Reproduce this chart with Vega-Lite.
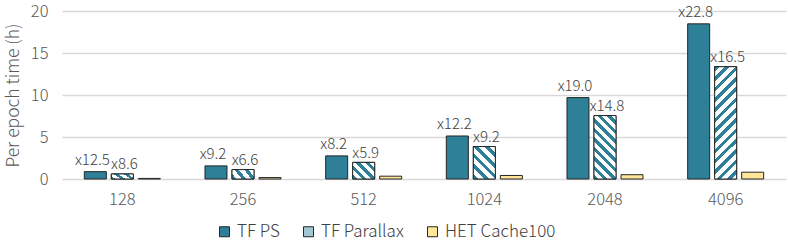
{
  "$schema": "https://vega.github.io/schema/vega-lite/v6.json",
  "width": 724,
  "height": 168,
  "autosize": {"type": "none"},
  "padding": {"left": 62, "top": 11, "right": 2, "bottom": 64},
  "config": {
    "font": "Noto Sans CJK SC",
    "view": {"stroke": null},
    "axis": {"labelColor": "#595959", "titleColor": "#595959", "labelFontSize": 16.5, "labelFontWeight": 300, "titleFontSize": 17.5, "titleFontWeight": 300, "ticks": false, "domain": false}
  },
  "data": {
    "values": [
      {"batch": "128", "series": "TF PS", "value": 0.875, "label": "x12.5"},
      {"batch": "128", "series": "TF Parallax", "value": 0.60, "label": "x8.6"},
      {"batch": "128", "series": "HET Cache100", "value": 0.07, "label": ""},
      {"batch": "256", "series": "TF PS", "value": 1.56, "label": "x9.2"},
      {"batch": "256", "series": "TF Parallax", "value": 1.12, "label": "x6.6"},
      {"batch": "256", "series": "HET Cache100", "value": 0.17, "label": ""},
      {"batch": "512", "series": "TF PS", "value": 2.75, "label": "x8.2"},
      {"batch": "512", "series": "TF Parallax", "value": 1.98, "label": "x5.9"},
      {"batch": "512", "series": "HET Cache100", "value": 0.335, "label": ""},
      {"batch": "1024", "series": "TF PS", "value": 5.12, "label": "x12.2"},
      {"batch": "1024", "series": "TF Parallax", "value": 3.86, "label": "x9.2"},
      {"batch": "1024", "series": "HET Cache100", "value": 0.42, "label": ""},
      {"batch": "2048", "series": "TF PS", "value": 9.69, "label": "x19.0"},
      {"batch": "2048", "series": "TF Parallax", "value": 7.55, "label": "x14.8"},
      {"batch": "2048", "series": "HET Cache100", "value": 0.51, "label": ""},
      {"batch": "4096", "series": "TF PS", "value": 18.47, "label": "x22.8"},
      {"batch": "4096", "series": "TF Parallax", "value": 13.37, "label": "x16.5"},
      {"batch": "4096", "series": "HET Cache100", "value": 0.81, "label": ""}
    ]
  },
  "encoding": {
    "x": {"field": "batch", "type": "nominal", "sort": null,
      "scale": {"paddingInner": 0.37, "paddingOuter": 0.185},
      "axis": {"title": null, "labelAngle": 0, "labelPadding": 12}},
    "xOffset": {"field": "series", "type": "nominal",
      "scale": {"domain": ["TF PS", "TF Parallax", "HET Cache100"], "paddingInner": 0.185, "paddingOuter": 0}},
    "y": {"field": "value", "type": "quantitative",
      "scale": {"domain": [0, 20], "nice": false},
      "axis": {"title": "Per epoch time (h)", "values": [0, 5, 10, 15, 20], "gridColor": "#D9D9D9", "gridWidth": 1.3, "labelPadding": 14, "titlePadding": 8}}
  },
  "layer": [
    {
      "mark": {"type": "bar", "stroke": "#262626", "strokeWidth": 1, "opacity": 1},
      "encoding": {
        "color": {"field": "series", "type": "nominal",
          "scale": {"domain": ["TF PS", "TF Parallax", "HET Cache100"],
            "range": ["#2E7F98", "#A3C7D2", "#FFE699"]},
          "legend": {"title": null, "orient": "none", "legendX": 154, "legendY": 212, "direction": "horizontal",
            "symbolType": "square", "symbolSize": 100, "symbolStrokeColor": "#262626", "symbolStrokeWidth": 1,
            "labelFontSize": 17, "labelFontWeight": 300, "labelColor": "#404040", "columnPadding": 20, "labelOffset": 4}}
      }
    },
    {
      "transform": [{"filter": "datum.series === 'TF Parallax'"}],
      "mark": {"type": "bar", "stroke": "#262626", "strokeWidth": 1},
      "encoding": {
        "fill": {
          "condition": [
            {"test": "datum.batch === '128' || datum.batch === '256'", "value": {"gradient": "linear", "x1": 0, "y1": 1, "x2": 1.19, "y2": 0.6, "stops": [
              {"offset": 0, "color": "#2E7F98"}, {"offset": 0.15, "color": "#2E7F98"}, {"offset": 0.15, "color": "#ffffff"}, {"offset": 0.3333, "color": "#ffffff"},
              {"offset": 0.3333, "color": "#2E7F98"}, {"offset": 0.4833, "color": "#2E7F98"}, {"offset": 0.4833, "color": "#ffffff"}, {"offset": 0.6667, "color": "#ffffff"},
              {"offset": 0.6667, "color": "#2E7F98"}, {"offset": 0.8167, "color": "#2E7F98"}, {"offset": 0.8167, "color": "#ffffff"}, {"offset": 1, "color": "#ffffff"}]}},
            {"test": "datum.batch === '512'", "value": {"gradient": "linear", "x1": 0, "y1": 1, "x2": 1.118, "y2": 0.156, "stops": [
              {"offset": 0, "color": "#2E7F98"}, {"offset": 0.1125, "color": "#2E7F98"}, {"offset": 0.1125, "color": "#ffffff"}, {"offset": 0.25, "color": "#ffffff"},
              {"offset": 0.25, "color": "#2E7F98"}, {"offset": 0.3625, "color": "#2E7F98"}, {"offset": 0.3625, "color": "#ffffff"}, {"offset": 0.5, "color": "#ffffff"},
              {"offset": 0.5, "color": "#2E7F98"}, {"offset": 0.6125, "color": "#2E7F98"}, {"offset": 0.6125, "color": "#ffffff"}, {"offset": 0.75, "color": "#ffffff"},
              {"offset": 0.75, "color": "#2E7F98"}, {"offset": 0.8625, "color": "#2E7F98"}, {"offset": 0.8625, "color": "#ffffff"}, {"offset": 1, "color": "#ffffff"}]}},
            {"test": "datum.batch === '1024'", "value": {"gradient": "linear", "x1": 0, "y1": 1, "x2": 0.78, "y2": -0.149, "stops": [
              {"offset": 0, "color": "#2E7F98"}, {"offset": 0.09, "color": "#2E7F98"}, {"offset": 0.09, "color": "#ffffff"}, {"offset": 0.2, "color": "#ffffff"},
              {"offset": 0.2, "color": "#2E7F98"}, {"offset": 0.29, "color": "#2E7F98"}, {"offset": 0.29, "color": "#ffffff"}, {"offset": 0.4, "color": "#ffffff"},
              {"offset": 0.4, "color": "#2E7F98"}, {"offset": 0.49, "color": "#2E7F98"}, {"offset": 0.49, "color": "#ffffff"}, {"offset": 0.6, "color": "#ffffff"},
              {"offset": 0.6, "color": "#2E7F98"}, {"offset": 0.69, "color": "#2E7F98"}, {"offset": 0.69, "color": "#ffffff"}, {"offset": 0.8, "color": "#ffffff"},
              {"offset": 0.8, "color": "#2E7F98"}, {"offset": 0.89, "color": "#2E7F98"}, {"offset": 0.89, "color": "#ffffff"}, {"offset": 1, "color": "#ffffff"}]}},
            {"test": "datum.batch === '2048'", "value": {"gradient": "linear", "x1": 0, "y1": 1, "x2": 0.4172, "y2": -0.2022, "stops": [
              {"offset": 0, "color": "#2E7F98"}, {"offset": 0.05, "color": "#2E7F98"}, {"offset": 0.05, "color": "#ffffff"}, {"offset": 0.1111, "color": "#ffffff"},
              {"offset": 0.1111, "color": "#2E7F98"}, {"offset": 0.1611, "color": "#2E7F98"}, {"offset": 0.1611, "color": "#ffffff"}, {"offset": 0.2222, "color": "#ffffff"},
              {"offset": 0.2222, "color": "#2E7F98"}, {"offset": 0.2722, "color": "#2E7F98"}, {"offset": 0.2722, "color": "#ffffff"}, {"offset": 0.3333, "color": "#ffffff"},
              {"offset": 0.3333, "color": "#2E7F98"}, {"offset": 0.3833, "color": "#2E7F98"}, {"offset": 0.3833, "color": "#ffffff"}, {"offset": 0.4444, "color": "#ffffff"},
              {"offset": 0.4444, "color": "#2E7F98"}, {"offset": 0.4944, "color": "#2E7F98"}, {"offset": 0.4944, "color": "#ffffff"}, {"offset": 0.5556, "color": "#ffffff"},
              {"offset": 0.5556, "color": "#2E7F98"}, {"offset": 0.6056, "color": "#2E7F98"}, {"offset": 0.6056, "color": "#ffffff"}, {"offset": 0.6667, "color": "#ffffff"},
              {"offset": 0.6667, "color": "#2E7F98"}, {"offset": 0.7167, "color": "#2E7F98"}, {"offset": 0.7167, "color": "#ffffff"}, {"offset": 0.7778, "color": "#ffffff"},
              {"offset": 0.7778, "color": "#2E7F98"}, {"offset": 0.8278, "color": "#2E7F98"}, {"offset": 0.8278, "color": "#ffffff"}, {"offset": 0.8889, "color": "#ffffff"},
              {"offset": 0.8889, "color": "#2E7F98"}, {"offset": 0.9389, "color": "#2E7F98"}, {"offset": 0.9389, "color": "#ffffff"}, {"offset": 1, "color": "#ffffff"}]}}
          ],
          "value": {"gradient": "linear", "x1": 0, "y1": 0, "x2": 0.2256, "y2": 1.1518, "stops": [
            {"offset": 0, "color": "#2E7F98"}, {"offset": 0.0346, "color": "#2E7F98"}, {"offset": 0.0346, "color": "#ffffff"}, {"offset": 0.0769, "color": "#ffffff"},
            {"offset": 0.0769, "color": "#2E7F98"}, {"offset": 0.1115, "color": "#2E7F98"}, {"offset": 0.1115, "color": "#ffffff"}, {"offset": 0.1538, "color": "#ffffff"},
            {"offset": 0.1538, "color": "#2E7F98"}, {"offset": 0.1885, "color": "#2E7F98"}, {"offset": 0.1885, "color": "#ffffff"}, {"offset": 0.2308, "color": "#ffffff"},
            {"offset": 0.2308, "color": "#2E7F98"}, {"offset": 0.2654, "color": "#2E7F98"}, {"offset": 0.2654, "color": "#ffffff"}, {"offset": 0.3077, "color": "#ffffff"},
            {"offset": 0.3077, "color": "#2E7F98"}, {"offset": 0.3423, "color": "#2E7F98"}, {"offset": 0.3423, "color": "#ffffff"}, {"offset": 0.3846, "color": "#ffffff"},
            {"offset": 0.3846, "color": "#2E7F98"}, {"offset": 0.4192, "color": "#2E7F98"}, {"offset": 0.4192, "color": "#ffffff"}, {"offset": 0.4615, "color": "#ffffff"},
            {"offset": 0.4615, "color": "#2E7F98"}, {"offset": 0.4962, "color": "#2E7F98"}, {"offset": 0.4962, "color": "#ffffff"}, {"offset": 0.5385, "color": "#ffffff"},
            {"offset": 0.5385, "color": "#2E7F98"}, {"offset": 0.5731, "color": "#2E7F98"}, {"offset": 0.5731, "color": "#ffffff"}, {"offset": 0.6154, "color": "#ffffff"},
            {"offset": 0.6154, "color": "#2E7F98"}, {"offset": 0.65, "color": "#2E7F98"}, {"offset": 0.65, "color": "#ffffff"}, {"offset": 0.6923, "color": "#ffffff"},
            {"offset": 0.6923, "color": "#2E7F98"}, {"offset": 0.7269, "color": "#2E7F98"}, {"offset": 0.7269, "color": "#ffffff"}, {"offset": 0.7692, "color": "#ffffff"},
            {"offset": 0.7692, "color": "#2E7F98"}, {"offset": 0.8038, "color": "#2E7F98"}, {"offset": 0.8038, "color": "#ffffff"}, {"offset": 0.8462, "color": "#ffffff"},
            {"offset": 0.8462, "color": "#2E7F98"}, {"offset": 0.8808, "color": "#2E7F98"}, {"offset": 0.8808, "color": "#ffffff"}, {"offset": 0.9231, "color": "#ffffff"},
            {"offset": 0.9231, "color": "#2E7F98"}, {"offset": 0.9577, "color": "#2E7F98"}, {"offset": 0.9577, "color": "#ffffff"}, {"offset": 1, "color": "#ffffff"}]}
        }
      }
    },
    {
      "transform": [{"filter": "datum.series === 'TF PS'"}],
      "mark": {"type": "text", "baseline": "alphabetic", "dy": -7, "dx": -3, "fontSize": 15, "fontWeight": 300, "color": "#404040"},
      "encoding": {"text": {"field": "label"}}
    },
    {
      "transform": [{"filter": "datum.series === 'TF Parallax'"}],
      "mark": {"type": "text", "baseline": "alphabetic", "dy": -4.5, "dx": 2, "fontSize": 15, "fontWeight": 300, "color": "#404040"},
      "encoding": {"text": {"field": "label"}}
    }
  ]
}
